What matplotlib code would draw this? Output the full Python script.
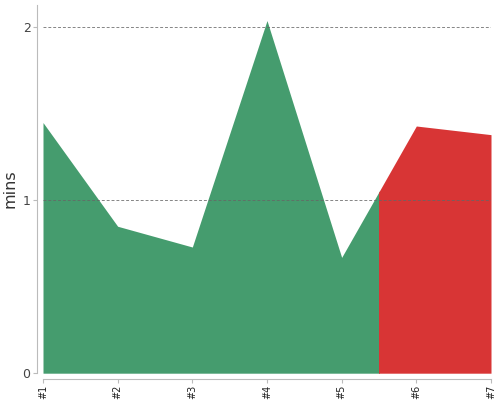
import numpy as np
import matplotlib
matplotlib.use("Agg")
import matplotlib.pyplot as plt
from matplotlib.patches import Rectangle

labels = ["#1", "#2", "#3", "#4", "#5", "#6", "#7"]
mins = [1.45, 0.85, 0.73, 2.04, 0.67, 1.43, 1.38]
split_at = 5.5  # colour changes from green to red here (in item position)

x = np.arange(1, len(labels) + 1)

fig = plt.figure(figsize=(5, 4), dpi=100)
ax = fig.add_axes([0.086, 0.067, 0.896, 0.9205])

# spines first: moving them resets the tick objects
for side in ["top", "right"]:
    ax.spines[side].set_visible(False)
for side in ["left", "bottom"]:
    ax.spines[side].set_color("#bbbbbb")
    ax.spines[side].set_position(("outward", 4))

green = ax.fill_between(x, 0, mins, color="#459c6e", lw=0)
red = ax.fill_between(x, 0, mins, color="#d83535", lw=0)
green.set_clip_path(Rectangle((1, 0), split_at - 1, 3, transform=ax.transData))
red.set_clip_path(Rectangle((split_at, 0), len(labels) - split_at, 3, transform=ax.transData))

ax.set_xlim(1, len(labels))
ax.set_ylim(0, 2.13)
ax.set_xticks(x)
ax.set_xticklabels(labels, rotation=90, fontsize=7, color="#222222")
ax.set_yticks([0, 1, 2])
ax.set_yticklabels(["0", "1", "2"], fontsize=9, color="#444444")
ax.set_ylabel("mins", fontsize=11.5, color="#333333")
ax.yaxis.set_label_coords(-0.056, 0.5)

for yv in [1, 2]:
    ax.axhline(yv, color="#666666", lw=0.7, ls=(0, (3, 2)), alpha=0.8, zorder=5)

ax.tick_params(axis="both", color="#bbbbbb", length=3, pad=2)
ax.tick_params(axis="x", pad=1.5)

fig.savefig("out.png", dpi=100)
